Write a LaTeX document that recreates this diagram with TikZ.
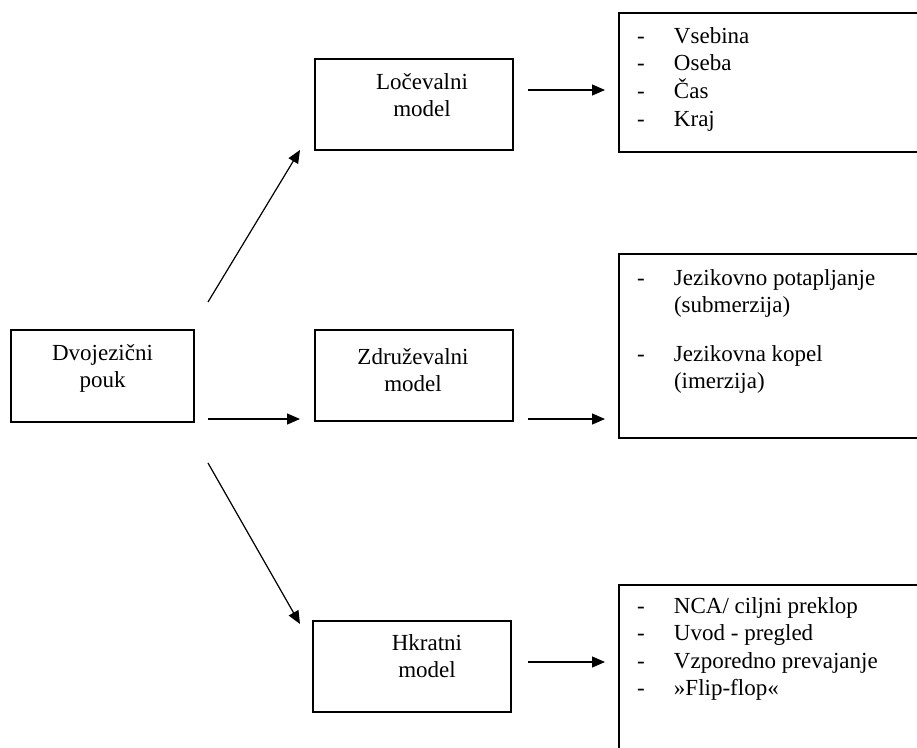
\documentclass[tikz,border=0pt]{standalone}
\usepackage{fontspec}
\setmainfont{Liberation Serif}
\usetikzlibrary{arrows.meta}
\tikzset{
  boxnode/.style={draw, line width=1.2pt, inner sep=0pt, outer sep=0pt},
  txt/.style={inner sep=0pt, outer sep=0pt, anchor=base, font=\fontsize{23}{27.5}\selectfont},
  listtxt/.style={inner sep=0pt, outer sep=0pt, anchor=base west, font=\fontsize{23}{27.5}\selectfont},
  arr/.style={line width=1.2pt, -{Triangle[length=13pt,width=11pt]}}
}
\begin{document}
\begin{tikzpicture}[x=1pt,y=-1pt]
\fill[white] (0,0) rectangle (917,747);
\useasboundingbox (0,0) rectangle (917,747);
\clip (0,0) rectangle (917,747);
% boxes
\node[boxnode, minimum width=183pt, minimum height=92pt] (d) at (102.5,376) {};
\node[boxnode, minimum width=198pt, minimum height=91pt] (l) at (414,104.5) {};
\node[boxnode, minimum width=198pt, minimum height=91pt] (z) at (414,375.5) {};
\node[boxnode, minimum width=198pt, minimum height=91pt] (h) at (412,666.5) {};
\node[boxnode, minimum width=306pt, minimum height=139pt] (la) at (772,82.5) {};
\node[boxnode, minimum width=306pt, minimum height=184pt] (lb) at (772,346) {};
\node[boxnode, minimum width=306pt, minimum height=175pt] (lc) at (772,672.5) {};
% texts
\node[txt] (dt) at (102.5,360) {\begin{tabular}[t]{@{}c@{}}Dvojezični\\pouk\end{tabular}};
\node[txt] (lt) at (422,89) {\begin{tabular}[t]{@{}c@{}}Ločevalni\\model\end{tabular}};
\node[txt] (zt) at (413,364) {\begin{tabular}[t]{@{}c@{}}Združevalni\\model\end{tabular}};
\node[txt] (ht) at (427,650) {\begin{tabular}[t]{@{}c@{}}Hkratni\\model\end{tabular}};
\node[listtxt] (lat) at (637,43) {\begin{tabular}[t]{@{}p{37pt}@{}l@{}}-&Vsebina\\-&Oseba\\-&Čas\\-&Kraj\end{tabular}};
\node[listtxt] (lbt) at (637,285) {\begin{tabular}[t]{@{}p{37pt}@{}l@{}}-&Jezikovno potapljanje\\&(submerzija)\\[21pt]-&Jezikovna kopel\\&(imerzija)\end{tabular}};
\node[listtxt] (lct) at (637,613) {\begin{tabular}[t]{@{}p{37pt}@{}l@{}}-&NCA/ ciljni preklop\\-&Uvod - pregled\\-&Vzporedno prevajanje\\-&»Flip-flop«\end{tabular}};
% connectors
\draw[arr] ([shift={(14,-28)}]d.north east) -- ([shift={(-15,0)}]l.south west);
\draw[arr] ([shift={(14,-3)}]d.south east) -- ([shift={(-15,-2)}]z.south west);
\draw[arr] ([shift={(14,41)}]d.south east) -- ([shift={(-13,3)}]h.north west);
\draw[arr] ([shift={(15,-14.5)}]l.east) -- ([shift={(-14,7.5)}]la.west);
\draw[arr] ([shift={(15,-2)}]z.south east) -- ([shift={(-14,-19)}]lb.south west);
\draw[arr] ([shift={(17,-4.5)}]h.east) -- ([shift={(-14,77)}]lc.north west);
\end{tikzpicture}
\end{document}
